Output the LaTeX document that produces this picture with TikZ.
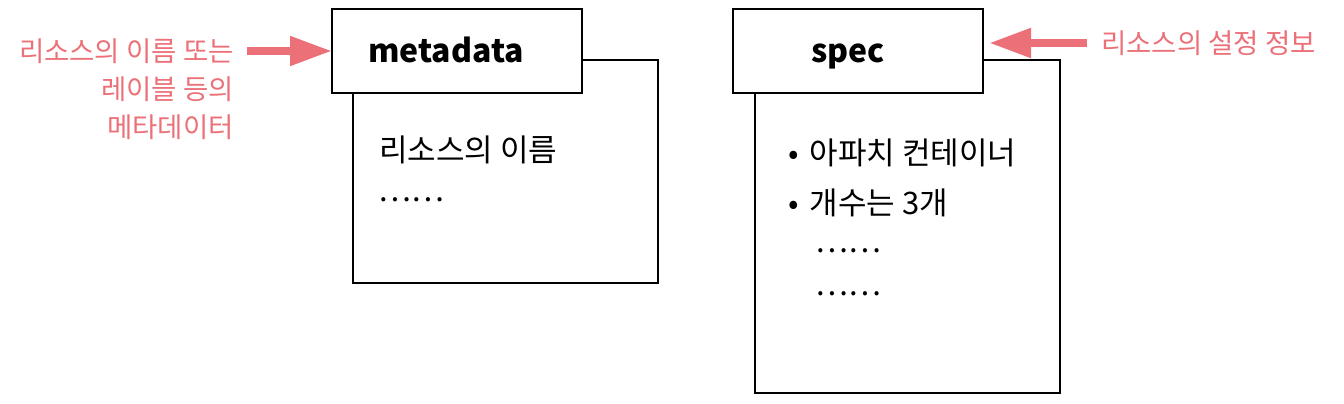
\documentclass[tikz,border=0pt]{standalone}
\usepackage{fontspec}
\setmainfont{Noto Sans CJK KR}
\usetikzlibrary{arrows.meta}

\definecolor{notepink}{RGB}{236,112,120}
\tikzset{
  box/.style={draw, line width=2.6pt, fill=white, inner sep=0pt, outer sep=0pt, anchor=north west},
  title/.style={font=\fontsize{32}{40}\selectfont\bfseries, inner sep=0pt, anchor=base},
  body/.style={font=\fontsize{31}{36}\selectfont, anchor=west, inner sep=0pt},
  note/.style={font=\fontsize{27.5}{38}\selectfont, text=notepink, inner sep=0pt},
  pinkarrow/.style={draw=notepink, line width=8pt, -{Triangle[length=42pt,width=28pt]}}
}

\begin{document}
\begin{tikzpicture}[x=1pt,y=-1pt]
\useasboundingbox (0,0) rectangle (1344,404);
% metadata
\node[box, minimum width=305pt, minimum height=223pt] (metaBody) at (353,60) {};
\node[box, minimum width=250pt, minimum height=84pt] (metaHead) at (332,9) {};
\node[title] (metaTitle) at ([xshift=-11pt,yshift=-12pt]metaHead.center) {metadata};
\node[body] (metaName) at (379,150) {리소스의 이름};
\node[body] (metaMore) at (378,200) {……};
% spec
\node[box, minimum width=305pt, minimum height=333pt] (specBody) at (755,60) {};
\node[box, minimum width=250pt, minimum height=84pt] (specHead) at (733,9) {};
\node[title] (specTitle) at ([xshift=-10pt,yshift=-12pt]specHead.center) {spec};
\node[body] (specImage) at (788,153) {•\hspace{11pt}아파치 컨테이너};
\node[body] (specCount) at (788,203) {•\hspace{11pt}개수는 3개};
\node[body] (specMore) at (815,251) {……};
\node[body] (specMore2) at (815,294) {……};
% notes
\node[note, anchor=east, align=right] (metaNote) at (234,89) {리소스의 이름 또는\\레이블 등의\\메타데이터};
\node[note, anchor=west] (specNote) at (1101,43) {리소스의 설정 정보};
\coordinate (metaTail) at (247,51);
\coordinate (specTail) at (1087,43);
\draw[pinkarrow] (metaTail) -- (metaHead.west);
\draw[pinkarrow, shorten >=6pt] (specTail) -- (specTail -| specHead.east);
\end{tikzpicture}
\end{document}
